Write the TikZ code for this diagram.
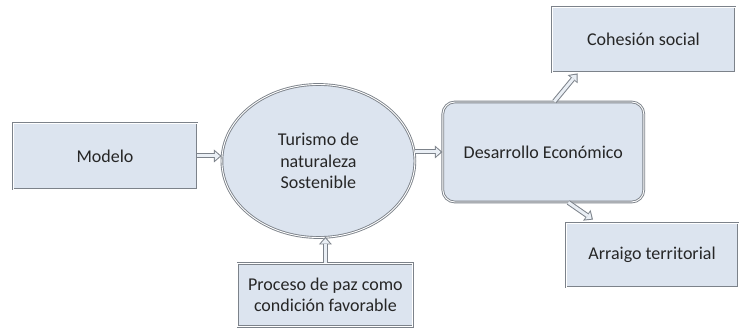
\documentclass[tikz,border=0pt]{standalone}
\usepackage{fontspec}
\setmainfont{Carlito}
\usetikzlibrary{positioning, arrows.meta, shapes.geometric}
\definecolor{boxfill}{HTML}{DCE4EF}
\definecolor{boxline}{HTML}{7C828A}
\tikzset{
    box/.style={rectangle, draw=boxline, double=white, double distance=0.9pt,
      line width=0.9pt, fill=boxfill, align=center, inner sep=2pt},
    ellip/.style={ellipse, draw=boxline, double=white, double distance=0.9pt,
      line width=0.9pt, fill=boxfill, align=center},
    every node/.append style={font=\fontsize{18}{21.5}\selectfont, text=black!85},
}

\begin{document}
\begin{tikzpicture}
    \tikzset{
      conn/.style={draw=boxline, line width=5pt,
        -{Triangle[length=7.5pt, width=13pt, line width=0pt]},
        postaction={draw=boxfill!60, line width=3pt, shorten >=1.6pt,
          -{Triangle[length=5pt, width=9pt, line width=0pt]}}},
      node distance=25pt
    }
    \useasboundingbox (0pt,0pt) rectangle (740pt,-328pt);

    \node[box, minimum width=184pt, minimum height=66pt] (modelo) at (105pt,-156pt) {Modelo};
    \node[ellip, minimum width=193pt, minimum height=153pt, right=24pt of modelo, yshift=-5pt] (tur)
      {Turismo de\\naturaleza\\Sostenible};
    \node[box, minimum width=175pt, minimum height=63pt, below=25pt of tur, xshift=7pt] (paz)
      {Proceso de paz como\\condición favorable};
    \node[box, rounded corners=12pt, minimum width=201pt, minimum height=100pt,
      right=27pt of tur, yshift=9pt] (des) {Desarrollo Económico};
    \node[box, minimum width=183pt, minimum height=65pt] (coh) at (643.5pt,-39.5pt) {Cohesión social};
    \node[box, minimum width=172pt, minimum height=64pt] (arr) at (652pt,-255pt) {Arraigo territorial};

    \draw[conn] (modelo.east) -- (modelo.east -| tur.west);
    \draw[conn] (tur.east |- des.west) -- (des.west);
    \draw[conn] (paz.north) -- ([yshift=1pt]paz.north |- tur.south);
    \draw[conn] ([xshift=11pt]des.north) -- ([xshift=-66pt,yshift=-1pt]coh.south);
    \draw[conn] ([xshift=25pt]des.south) -- ([xshift=-59pt,yshift=3pt]arr.north);
\end{tikzpicture}
\end{document}
